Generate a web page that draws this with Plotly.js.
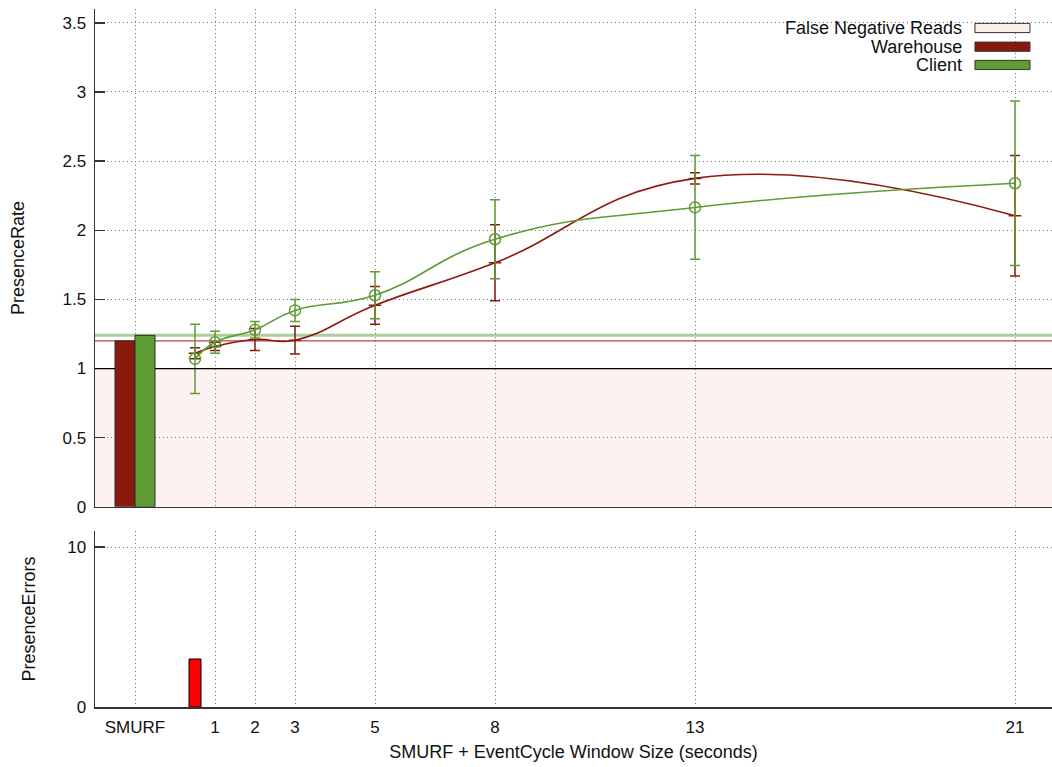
<!DOCTYPE html>
<html>
<head>
<meta charset="utf-8">
<script src="https://cdn.plot.ly/plotly-3.0.1.min.js"></script>
<style>
html,body{margin:0;padding:0;background:#fff;}
#chart{width:1052px;height:767px;}
</style>
</head>
<body>
<div id="chart"></div>
<script>
// ---- data ----
const windowSizes = [0.5, 1, 2, 3, 5, 8, 13, 21];
const tickVals = [-1, 1, 2, 3, 5, 8, 13, 21];
const tickText = ['SMURF', '1', '2', '3', '5', '8', '13', '21'];
const warehouseRate = [1.11, 1.16, 1.21, 1.205, 1.457, 1.765, 2.375, 2.105];
const warehouseErr  = [0.04, 0.03, 0.08, 0.10, 0.137, 0.275, 0.04, 0.435];
const clientRate    = [1.07, 1.19, 1.28, 1.42, 1.53, 1.935, 2.165, 2.34];
const clientErr     = [0.25, 0.08, 0.06, 0.08, 0.17, 0.285, 0.375, 0.595];
const smurfPos = [-1];
const smurfWarehouse = [1.2];
const smurfClient = [1.24];
const falseNegThreshold = 1;
const errorWindow = [0.5];
const errorCounts = [3];

const WH = '#8b1a0e';
const CL = '#5e9c36';
const FONT = 'Liberation Sans, Arial, Helvetica, sans-serif';
const GRID = '#7a7a7a';
const GD = '1px,3px';
const XR = [-2, 21.925];
const BARW = 0.5;

const traces = [
  {type:'bar', x:smurfPos, y:smurfWarehouse, offset:-BARW, width:BARW,
   marker:{color:WH, line:{color:'#2a2a2a', width:1}}, xaxis:'x', yaxis:'y', showlegend:false, hoverinfo:'skip'},
  {type:'bar', x:smurfPos, y:smurfClient, offset:0, width:BARW,
   marker:{color:CL, line:{color:'#2a2a2a', width:1}}, xaxis:'x', yaxis:'y', showlegend:false, hoverinfo:'skip'},
  {type:'scatter', mode:'lines+markers', x:windowSizes, y:warehouseRate,
   line:{color:WH, width:1.6, shape:'spline', smoothing:1.3},
   marker:{symbol:'line-ew', size:9, color:WH, line:{color:WH, width:1.5}},
   error_y:{type:'data', array:warehouseErr, visible:true, color:WH, thickness:1.5, width:5},
   xaxis:'x', yaxis:'y', showlegend:false},
  {type:'scatter', mode:'lines+markers', x:windowSizes, y:clientRate,
   line:{color:CL, width:1.6, shape:'spline', smoothing:1.3},
   marker:{symbol:'circle-open', size:11, color:CL, line:{color:CL, width:1.5}},
   error_y:{type:'data', array:clientErr, visible:true, color:CL, thickness:1.5, width:5},
   xaxis:'x', yaxis:'y', showlegend:false},
  {type:'bar', x:errorWindow, y:errorCounts, width:0.3,
   marker:{color:'#ff0000', line:{color:'#000', width:1}}, xaxis:'x2', yaxis:'y2', showlegend:false}
];

const tickFont = {family:FONT, size:17, color:'#111'};
const titleFont = {family:FONT, size:18, color:'#111'};

// legend geometry (paper coords)
const legX0 = 0.9195, legX1 = 0.977, legTextX = 0.907;
const legRows = [0.9728, 0.946, 0.9198];
const legH = 0.0066;
const legItems = [
  {name:'False Negative Reads', fill:'#fdeeee', line:'#333'},
  {name:'Warehouse', fill:WH, line:'#333'},
  {name:'Client', fill:CL, line:'#333'}
];

const shapes = [
  {type:'rect', xref:'x domain', x0:0, x1:1, yref:'y', y0:0, y1:falseNegThreshold,
   fillcolor:'#fdf1f1', line:{width:0}, layer:'below'},
  {type:'line', xref:'x domain', x0:0, x1:1, yref:'y', y0:smurfClient[0], y1:smurfClient[0],
   line:{color:'rgba(94,156,54,0.5)', width:3}, layer:'below'},
  {type:'line', xref:'x domain', x0:0, x1:1, yref:'y', y0:smurfWarehouse[0], y1:smurfWarehouse[0],
   line:{color:'rgba(175,35,25,0.85)', width:1.3}, layer:'below'},
  // threshold line, drawn around (not across) the SMURF bars
  {type:'line', xref:'x', x0:XR[0], x1:smurfPos[0]-BARW, yref:'y', y0:falseNegThreshold, y1:falseNegThreshold,
   line:{color:'#000', width:1.2}, layer:'above'},
  {type:'line', xref:'x', x0:smurfPos[0]+BARW, x1:XR[1], yref:'y', y0:falseNegThreshold, y1:falseNegThreshold,
   line:{color:'#000', width:1.2}, layer:'above'}
];
const annotations = [];
legItems.forEach((it, i) => {
  shapes.push({type:'rect', xref:'paper', yref:'paper', x0:legX0, x1:legX1,
    y0:legRows[i]-legH, y1:legRows[i]+legH, fillcolor:it.fill, line:{color:it.line, width:1}, layer:'above'});
  annotations.push({xref:'paper', yref:'paper', x:legTextX, y:legRows[i], xanchor:'right', yanchor:'middle',
    text:it.name, showarrow:false, borderpad:0, font:{family:FONT, size:18, color:'#111'}});
});

const layout = {
  width:1052, height:767,
  margin:{l:95, r:0, t:9, b:60},
  paper_bgcolor:'#fff', plot_bgcolor:'rgba(0,0,0,0)',
  barmode:'overlay',
  showlegend:false,
  font:{family:FONT, size:17, color:'#111'},
  xaxis:{domain:[0,1], anchor:'y', range:XR, tickvals:tickVals, ticktext:tickText,
    showticklabels:false, ticks:'', showgrid:true, gridcolor:GRID, griddash:GD, gridwidth:1,
    showline:true, linecolor:'#333', linewidth:1.5, zeroline:false, fixedrange:true},
  xaxis2:{domain:[0,1], anchor:'y2', matches:'x', range:XR, tickvals:tickVals, ticktext:tickText,
    showticklabels:true, ticks:'', tickfont:tickFont, ticklabelstandoff:4,
    showgrid:true, gridcolor:GRID, griddash:GD, gridwidth:1,
    showline:true, linecolor:'#333', linewidth:1.5, zeroline:false,
    title:{text:'SMURF + EventCycle Window Size (seconds)', font:titleFont, standoff:9}},
  yaxis:{domain:[0.2868,1], anchor:'x', range:[0,3.6], dtick:0.5, tick0:0,
    ticks:'inside', ticklen:10, tickwidth:1.5, tickcolor:'#333', tickfont:tickFont, ticklabelstandoff:4,
    showgrid:true, gridcolor:GRID, griddash:GD, gridwidth:1,
    showline:true, linecolor:'#333', linewidth:1.5, zeroline:false,
    title:{text:'PresenceRate', font:titleFont, standoff:33}},
  yaxis2:{domain:[0,0.2521], anchor:'x2', range:[0,11], tickvals:[0,10],
    ticks:'inside', ticklen:10, tickwidth:1.5, tickcolor:'#333', tickfont:tickFont, ticklabelstandoff:4,
    showgrid:true, gridcolor:GRID, griddash:GD, gridwidth:1,
    showline:true, linecolor:'#333', linewidth:1.5, zeroline:false,
    title:{text:'PresenceErrors', font:titleFont, standoff:27}},
  shapes:shapes,
  annotations:annotations
};

Plotly.newPlot('chart', traces, layout, {staticPlot:true, displayModeBar:false});
</script>
</body>
</html>
